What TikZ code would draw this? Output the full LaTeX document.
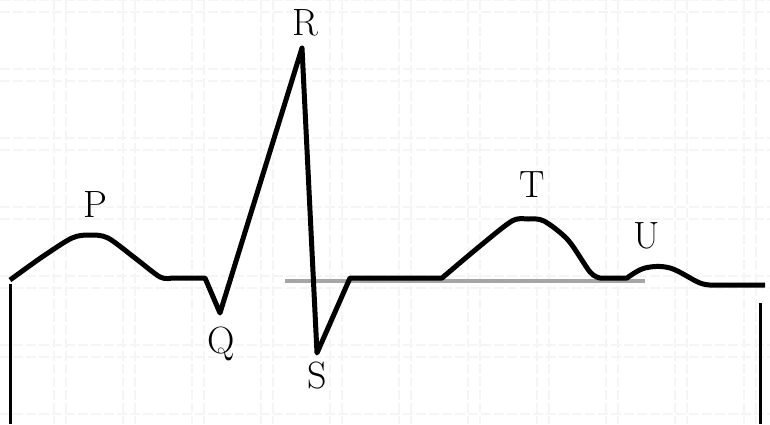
\documentclass[tikz,border=0pt]{standalone}
\begin{document}
\begin{tikzpicture}[x=0.5pt, y=-0.5pt, line join=round,
    gridline/.style={black!4, line width=1.2pt, dash pattern=on 5pt off 1.5pt},
    wavelbl/.style={inner sep=0pt, font=\fontsize{19}{19}\selectfont}]
    % Pixel-like coordinates, y pointing down: one ECG beat P-QRS-T-U.
    \useasboundingbox (0,0) rectangle (770,424);
    \foreach \k in {0,...,10} {
      \draw[gridline] (54+69*\k,0) -- (54+69*\k,424);
      \draw[gridline] (66+69*\k,0) -- (66+69*\k,424);
    }
    \foreach \k in {0,...,6} {
      \draw[gridline] (0,69*\k) -- (770,69*\k);
      \draw[gridline] (0,12+69*\k) -- (770,12+69*\k);
    }

    \draw[black!35, line width=2pt] (285,281) -- (645,281);
    \draw[line width=1.5pt] (10,284) -- (10,424);
    \draw[line width=1.5pt] (760,303) -- (760,424);

    \draw[line width=2.5pt]
      plot[smooth, tension=0.5] coordinates {(10,280) (42,257) (72,238) (90,235) (108,238) (135,258) (160,277) (172,278)}
      -- (205,278) -- (220,313) -- (302,48) -- (317,353) -- (350,278) -- (442,278)
      -- plot[smooth, tension=0.5] coordinates {(442,278) (480,246) (512,221) (528,219) (544,221) (568,240) (590,272) (600,278)}
      -- (627,278)
      -- plot[smooth, tension=0.6] coordinates {(627,278) (645,268) (670,268) (700,283) (715,285)}
      -- (765,285);

    \node[wavelbl] (lblP) at (95,205) {P};
    \node[wavelbl] (lblQ) at (221,344) {Q};
    \node[wavelbl] (lblR) at (305,23) {R};
    \node[wavelbl] (lblS) at (317,376) {S};
    \node[wavelbl] (lblT) at (532,185) {T};
    \node[wavelbl] (lblU) at (647,236) {U};
\end{tikzpicture}
\end{document}
